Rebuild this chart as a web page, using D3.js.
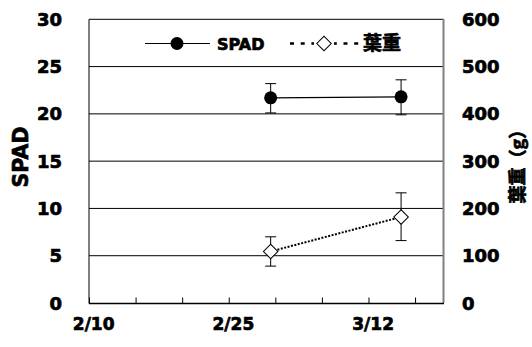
<!DOCTYPE html>
<html>
<head>
<meta charset="utf-8">
<script src="https://cdn.jsdelivr.net/npm/d3@7"></script>
<style>
  body { margin: 0; background: #fff; }
  svg { display: block; }
  text { fill: #000; stroke: #000; stroke-width: 0.7px; }
</style>
</head>
<body>
<div id="chart"></div>
<script>
// Data
const dates = ['2010-03-01', '2010-03-15'];
const spad = [21.7, 21.8];
const spadLow = [20.1, 19.9];
const spadHigh = [23.2, 23.6];
const leafWeight = [109, 182];
const leafLow = [78, 132];
const leafHigh = [140, 233];
const xTickLabels = ['2010-02-10', '2010-02-25', '2010-03-12'];
const leftTicks = [0, 5, 10, 15, 20, 25, 30];
const rightTicks = [0, 100, 200, 300, 400, 500, 600];

const W = 532, H = 347;
const plot = { left: 89, right: 443, top: 19.3, bottom: 303 };
const font = "'DejaVu Sans', sans-serif";
const cjk = "'Noto Sans CJK JP', sans-serif";
const parse = d3.timeParse('%Y-%m-%d');
const halfDay = 12 * 3600 * 1000;
const xStart = parse('2010-02-10'), xEnd = parse('2010-03-20');

const svg = d3.select('#chart').append('svg')
  .attr('width', W).attr('height', H)
  .style('font-family', font);

// Excel date axis: each day is a slot, values sit in the middle of it
const x = d3.scaleTime().domain([xStart, xEnd]).range([plot.left, plot.right]);
const xc = d => x(new Date(d.getTime() + halfDay));

const yL = d3.scaleLinear().domain([0, 30]).range([plot.bottom, plot.top]);
const yR = d3.scaleLinear().domain([0, 600]).range([plot.bottom, plot.top]);

// grid lines
svg.append('g')
  .selectAll('line')
  .data(leftTicks.slice(1))
  .join('line')
  .attr('x1', plot.left).attr('x2', plot.right)
  .attr('y1', d => yL(d)).attr('y2', d => yL(d))
  .attr('stroke', '#000').attr('stroke-width', 1);

// right border
svg.append('line')
  .attr('x1', plot.right + 0.5).attr('x2', plot.right + 0.5)
  .attr('y1', plot.top - 0.5).attr('y2', plot.bottom)
  .attr('stroke', '#808080').attr('stroke-width', 2);

// left axis line
svg.append('line')
  .attr('x1', plot.left).attr('x2', plot.left)
  .attr('y1', plot.top).attr('y2', plot.bottom + 0.5)
  .attr('stroke', '#000').attr('stroke-width', 1);

// x axis, ticks every 5 days from the start, pointing up
const xTicks = d3.timeDay.range(xStart, xEnd, 5);
const xAxis = svg.append('g')
  .attr('transform', `translate(0,${plot.bottom + 0.5})`)
  .call(d3.axisTop(x).tickValues(xTicks).tickSize(6).tickFormat(''));
xAxis.select('.domain').remove();
xAxis.selectAll('line').attr('stroke', '#000');
svg.append('line')
  .attr('x1', plot.left).attr('x2', plot.right + 1)
  .attr('y1', plot.bottom + 0.5).attr('y2', plot.bottom + 0.5)
  .attr('stroke', '#000').attr('stroke-width', 1.5);

// x labels
svg.append('g')
  .selectAll('text')
  .data(xTickLabels.map(parse))
  .join('text')
  .attr('x', d => xc(d))
  .attr('y', 330)
  .attr('text-anchor', 'middle')
  .attr('font-size', '17px').attr('font-weight', 'bold')
  .text(d3.timeFormat('%-m/%-d'));

// left labels
svg.append('g')
  .selectAll('text')
  .data(leftTicks)
  .join('text')
  .attr('x', 62)
  .attr('y', d => yL(d) + 6.5)
  .attr('text-anchor', 'end')
  .attr('font-size', '18px').attr('font-weight', 'bold')
  .text(d => d);

// right labels
svg.append('g')
  .selectAll('text')
  .data(rightTicks)
  .join('text')
  .attr('x', 462)
  .attr('y', d => yR(d) + 6.5)
  .attr('text-anchor', 'start')
  .attr('font-size', '18px').attr('font-weight', 'bold')
  .text(d => d);

// axis titles
svg.append('text')
  .attr('transform', 'translate(28,157) rotate(-90)')
  .attr('text-anchor', 'middle')
  .attr('font-size', '20.5px').attr('font-weight', 'bold')
  .text('SPAD');
svg.append('text')
  .attr('transform', 'translate(524,162) rotate(-90)')
  .attr('text-anchor', 'middle')
  .attr('font-size', '18px').attr('font-weight', 'bold')
  .attr('font-family', cjk)
  .text('葉重（g）');

// series
const spadData = dates.map((d, i) => ({ date: parse(d), v: spad[i], lo: spadLow[i], hi: spadHigh[i] }));
const leafData = dates.map((d, i) => ({ date: parse(d), v: leafWeight[i], lo: leafLow[i], hi: leafHigh[i] }));

function errorBars(data, y) {
  const g = svg.append('g').attr('stroke', '#000').attr('stroke-width', 1);
  g.selectAll('.v').data(data).join('line')
    .attr('x1', d => xc(d.date)).attr('x2', d => xc(d.date))
    .attr('y1', d => y(d.lo)).attr('y2', d => y(d.hi));
  g.selectAll('.lo').data(data).join('line')
    .attr('x1', d => xc(d.date) - 5.5).attr('x2', d => xc(d.date) + 5.5)
    .attr('y1', d => y(d.lo)).attr('y2', d => y(d.lo));
  g.selectAll('.hi').data(data).join('line')
    .attr('x1', d => xc(d.date) - 5.5).attr('x2', d => xc(d.date) + 5.5)
    .attr('y1', d => y(d.hi)).attr('y2', d => y(d.hi));
}

errorBars(spadData, yL);
errorBars(leafData, yR);

svg.append('path')
  .datum(spadData)
  .attr('d', d3.line().x(d => xc(d.date)).y(d => yL(d.v)))
  .attr('fill', 'none').attr('stroke', '#000').attr('stroke-width', 1.2);

svg.append('path')
  .datum(leafData)
  .attr('d', d3.line().x(d => xc(d.date)).y(d => yR(d.v)))
  .attr('fill', 'none').attr('stroke', '#000').attr('stroke-width', 2)
  .attr('stroke-dasharray', '2,1.5');

svg.selectAll('.dot')
  .data(spadData)
  .join('circle')
  .attr('cx', d => xc(d.date)).attr('cy', d => yL(d.v))
  .attr('r', 6.5).attr('fill', '#000');

const diamond = d3.symbol().type(d3.symbolSquare).size(105);
svg.selectAll('.dia')
  .data(leafData)
  .join('path')
  .attr('d', diamond)
  .attr('transform', d => `translate(${xc(d.date)},${yR(d.v)}) rotate(45)`)
  .attr('fill', '#fff').attr('stroke', '#000').attr('stroke-width', 1);

// legend
const lg = svg.append('g');
lg.append('line').attr('x1', 145).attr('x2', 210).attr('y1', 43.5).attr('y2', 43.5)
  .attr('stroke', '#000').attr('stroke-width', 1.2);
lg.append('circle').attr('cx', 177).attr('cy', 43.5).attr('r', 6.5).attr('fill', '#000');
lg.append('text').attr('x', 217).attr('y', 49.5)
  .attr('font-size', '16px').attr('font-weight', 'bold').text('SPAD');
lg.append('line').attr('x1', 290).attr('x2', 362).attr('y1', 43.5).attr('y2', 43.5)
  .attr('stroke', '#000').attr('stroke-width', 2.5).attr('stroke-dasharray', '4,6.7');
lg.append('rect').attr('x', 314).attr('y', 34).attr('width', 20).attr('height', 19).attr('fill', '#fff');
lg.append('path').attr('d', diamond)
  .attr('transform', 'translate(324,43.5) rotate(45)')
  .attr('fill', '#fff').attr('stroke', '#000').attr('stroke-width', 1);
lg.append('text').attr('x', 363).attr('y', 49.5)
  .attr('font-size', '19px').attr('font-weight', 'bold')
  .attr('font-family', cjk)
  .text('葉重');
</script>
</body>
</html>
